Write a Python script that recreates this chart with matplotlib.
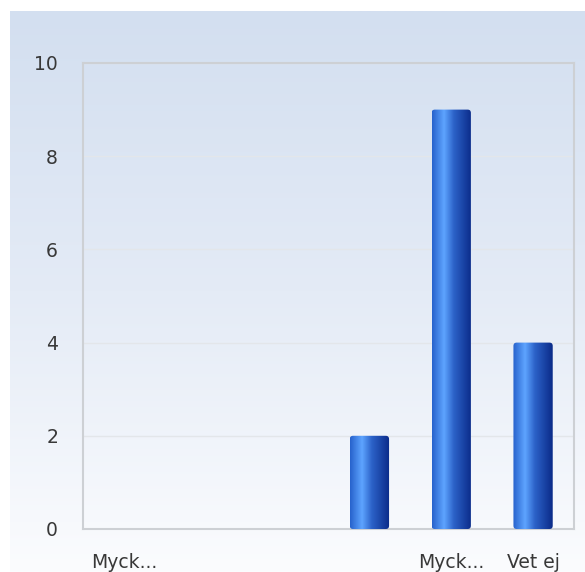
import numpy as np
import matplotlib
matplotlib.use("Agg")
import matplotlib.pyplot as plt
from matplotlib.colors import LinearSegmentedColormap
from matplotlib.patches import FancyBboxPatch

# data
categories = ["Myck...", "", "", "", "Myck...", "Vet ej"]
values = [0, 0, 0, 2, 9, 4]
yticks = [0, 2, 4, 6, 8, 10]

W, H = 585, 572
fig = plt.figure(figsize=(W / 100, H / 100), dpi=100)
fig.patch.set_facecolor("white")

# background gradient panel
bg = fig.add_axes([10 / W, 0, 1 - 10 / W, (H - 11) / H], zorder=0)
bg_cmap = LinearSegmentedColormap.from_list("bg", ["#d3dff0", "#e4ebf6", "#fbfcfe"])
grad = np.linspace(0, 1, 256).reshape(-1, 1)
bg.imshow(grad, aspect="auto", cmap=bg_cmap, extent=[0, 1, 0, 1], origin="upper")
bg.set_axis_off()

# plot area
left, right, top, bottom = 83, 574, 63, 529
ax = fig.add_axes([left / W, 1 - bottom / H, (right - left) / W, (bottom - top) / H], zorder=1)
ax.patch.set_alpha(0)

x = np.arange(len(categories))
ax.set_xlim(-0.5, len(categories) - 0.5)
ax.set_ylim(0, 10)

bar_cmap = LinearSegmentedColormap.from_list(
    "bar", [(0, "#2762cc"), (0.3, "#5ea4ff"), (0.55, "#2c62c8"), (1, "#0a2a88")])
bar_grad = np.linspace(0, 1, 128).reshape(1, -1)
bw = 0.48
for xi, v in zip(x, values):
    if v <= 0:
        continue
    patch = FancyBboxPatch((xi - bw / 2, 0), bw, v,
                           boxstyle="round,pad=0,rounding_size=0.04",
                           mutation_aspect=10 / 466 * 82 / 1,
                           linewidth=0, facecolor="none", zorder=3)
    ax.add_patch(patch)
    im = ax.imshow(bar_grad, aspect="auto", cmap=bar_cmap,
                   extent=[xi - bw / 2, xi + bw / 2, 0, v], zorder=3)
    im.set_clip_path(patch)

ax.set_xlim(-0.5, len(categories) - 0.5)
ax.set_ylim(0, 10)

ax.set_yticks(yticks)
ax.set_xticks(x)
ax.set_xticklabels(categories)
ax.tick_params(length=0, labelsize=13.5, colors="#383838")
ax.tick_params(axis="y", pad=18)
ax.tick_params(axis="x", pad=17)
ax.yaxis.grid(True, color="#e3e6ea", linewidth=1)
ax.set_axisbelow(True)
for s in ax.spines.values():
    s.set_color("#cdd0d4")
    s.set_linewidth(1.5)

fig.savefig("out.png", dpi=100)
